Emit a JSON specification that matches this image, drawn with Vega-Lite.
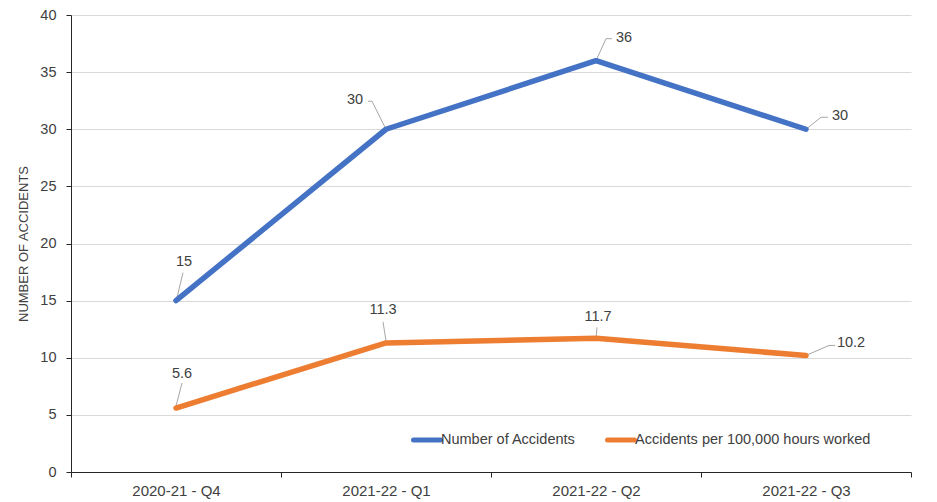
{
  "$schema": "https://vega.github.io/schema/vega-lite/v6.json",
  "width": 840,
  "height": 457,
  "autosize": {"type": "none"},
  "padding": {"left": 71, "top": 15, "right": 26, "bottom": 30},
  "background": "white",
  "config": {
    "font": "Liberation Sans",
    "view": {"stroke": null},
    "axis": {
      "domainColor": "#262626",
      "tickColor": "#262626",
      "tickSize": 5,
      "labelColor": "#404040",
      "labelFontSize": 14.5,
      "titleColor": "#404040",
      "titleFontWeight": "normal"
    },
    "text": {"font": "Liberation Sans", "fontSize": 14.5, "color": "#404040", "align": "center", "baseline": "middle"},
    "rule": {"color": "#a6a6a6", "strokeWidth": 1}
  },
  "data": {
    "values": [
      {"q": "2020-21 - Q4", "series": "Number of Accidents", "value": 15},
      {"q": "2021-22 - Q1", "series": "Number of Accidents", "value": 30},
      {"q": "2021-22 - Q2", "series": "Number of Accidents", "value": 36},
      {"q": "2021-22 - Q3", "series": "Number of Accidents", "value": 30},
      {"q": "2020-21 - Q4", "series": "Accidents per 100,000 hours worked", "value": 5.6},
      {"q": "2021-22 - Q1", "series": "Accidents per 100,000 hours worked", "value": 11.3},
      {"q": "2021-22 - Q2", "series": "Accidents per 100,000 hours worked", "value": 11.7},
      {"q": "2021-22 - Q3", "series": "Accidents per 100,000 hours worked", "value": 10.2}
    ]
  },
  "encoding": {
    "x": {
      "field": "q",
      "type": "ordinal",
      "sort": null,
      "scale": {"type": "band", "paddingInner": 0, "paddingOuter": 0},
      "axis": {"title": null, "labelAngle": 0, "tickBand": "extent", "labelPadding": 6, "labelFontSize": 15, "grid": false}
    },
    "y": {
      "field": "value",
      "type": "quantitative",
      "scale": {"domain": [0, 40], "nice": false},
      "axis": {
        "title": "NUMBER OF ACCIDENTS",
        "titleFontSize": 13,
        "titlePadding": 9,
        "values": [0, 5, 10, 15, 20, 25, 30, 35, 40],
        "labelPadding": 10,
        "grid": true,
        "gridColor": "#d9d9d9"
      }
    }
  },
  "layer": [
    {
      "transform": [{"filter": "datum.series === 'Number of Accidents' && datum.q === '2020-21 - Q4'"}],
      "mark": {"type": "rule", "xOffset": 1, "yOffset": -3, "x2Offset": 7, "y2Offset": -28},
      "encoding": {"x2": {"field": "q"}, "y2": {"field": "value"}}
    },
    {
      "transform": [{"filter": "datum.series === 'Number of Accidents' && datum.q === '2021-22 - Q1'"}],
      "mark": {"type": "rule", "xOffset": 0, "yOffset": 0, "x2Offset": -14, "y2Offset": -28},
      "encoding": {"x2": {"field": "q"}, "y2": {"field": "value"}}
    },
    {
      "transform": [{"filter": "datum.series === 'Number of Accidents' && datum.q === '2021-22 - Q1'"}],
      "mark": {"type": "rule", "xOffset": -14, "yOffset": -28, "x2Offset": -18, "y2Offset": -28},
      "encoding": {"x2": {"field": "q"}, "y2": {"field": "value"}}
    },
    {
      "transform": [{"filter": "datum.series === 'Number of Accidents' && datum.q === '2021-22 - Q2'"}],
      "mark": {"type": "rule", "xOffset": 0, "yOffset": 0, "x2Offset": 10, "y2Offset": -22},
      "encoding": {"x2": {"field": "q"}, "y2": {"field": "value"}}
    },
    {
      "transform": [{"filter": "datum.series === 'Number of Accidents' && datum.q === '2021-22 - Q2'"}],
      "mark": {"type": "rule", "xOffset": 10, "yOffset": -22, "x2Offset": 16, "y2Offset": -22},
      "encoding": {"x2": {"field": "q"}, "y2": {"field": "value"}}
    },
    {
      "transform": [{"filter": "datum.series === 'Number of Accidents' && datum.q === '2021-22 - Q3'"}],
      "mark": {"type": "rule", "xOffset": 0, "yOffset": 0, "x2Offset": 15, "y2Offset": -12},
      "encoding": {"x2": {"field": "q"}, "y2": {"field": "value"}}
    },
    {
      "transform": [{"filter": "datum.series === 'Number of Accidents' && datum.q === '2021-22 - Q3'"}],
      "mark": {"type": "rule", "xOffset": 15, "yOffset": -12, "x2Offset": 22, "y2Offset": -12},
      "encoding": {"x2": {"field": "q"}, "y2": {"field": "value"}}
    },
    {
      "transform": [{"filter": "datum.series !== 'Number of Accidents' && datum.q === '2020-21 - Q4'"}],
      "mark": {"type": "rule", "xOffset": 0, "yOffset": -2, "x2Offset": 6, "y2Offset": -25},
      "encoding": {"x2": {"field": "q"}, "y2": {"field": "value"}}
    },
    {
      "transform": [{"filter": "datum.series !== 'Number of Accidents' && datum.q === '2021-22 - Q1'"}],
      "mark": {"type": "rule", "xOffset": 0, "yOffset": -2, "x2Offset": -3, "y2Offset": -21},
      "encoding": {"x2": {"field": "q"}, "y2": {"field": "value"}}
    },
    {
      "transform": [{"filter": "datum.series !== 'Number of Accidents' && datum.q === '2021-22 - Q2'"}],
      "mark": {"type": "rule", "xOffset": 0, "yOffset": 0, "x2Offset": 1, "y2Offset": -11},
      "encoding": {"x2": {"field": "q"}, "y2": {"field": "value"}}
    },
    {
      "transform": [{"filter": "datum.series !== 'Number of Accidents' && datum.q === '2021-22 - Q3'"}],
      "mark": {"type": "rule", "xOffset": 0, "yOffset": 0, "x2Offset": 23, "y2Offset": -10},
      "encoding": {"x2": {"field": "q"}, "y2": {"field": "value"}}
    },
    {
      "transform": [{"filter": "datum.series !== 'Number of Accidents' && datum.q === '2021-22 - Q3'"}],
      "mark": {"type": "rule", "xOffset": 23, "yOffset": -10, "x2Offset": 29, "y2Offset": -10},
      "encoding": {"x2": {"field": "q"}, "y2": {"field": "value"}}
    },
    {
      "mark": {"type": "line", "strokeWidth": 5.5, "strokeCap": "round", "strokeJoin": "round"},
      "encoding": {
        "color": {
          "field": "series",
          "type": "nominal",
          "scale": {
            "domain": ["Number of Accidents", "Accidents per 100,000 hours worked"],
            "range": ["#4472C4", "#ED7D31"]
          },
          "legend": {
            "title": null,
            "orient": "none",
            "legendX": 340,
            "legendY": 409,
            "direction": "horizontal",
            "symbolType": "stroke",
            "symbolSize": 729,
            "symbolStrokeWidth": 5,
            "labelFontSize": 14.5,
            "labelColor": "#404040",
            "labelLimit": 0,
            "labelOffset": -2,
            "columnPadding": 21,
            "padding": 0,
            "encode": {"symbols": {"update": {"strokeCap": {"value": "round"}}}}
          }
        }
      }
    },
    {
      "transform": [{"filter": "datum.series === 'Number of Accidents' && datum.q === '2020-21 - Q4'"}],
      "mark": {"type": "text", "dx": 8, "dy": -39},
      "encoding": {"text": {"field": "value", "type": "quantitative", "format": ".1~f"}}
    },
    {
      "transform": [{"filter": "datum.series === 'Number of Accidents' && datum.q === '2021-22 - Q1'"}],
      "mark": {"type": "text", "dx": -31, "dy": -29},
      "encoding": {"text": {"field": "value", "type": "quantitative", "format": ".1~f"}}
    },
    {
      "transform": [{"filter": "datum.series === 'Number of Accidents' && datum.q === '2021-22 - Q2'"}],
      "mark": {"type": "text", "dx": 28, "dy": -23},
      "encoding": {"text": {"field": "value", "type": "quantitative", "format": ".1~f"}}
    },
    {
      "transform": [{"filter": "datum.series === 'Number of Accidents' && datum.q === '2021-22 - Q3'"}],
      "mark": {"type": "text", "dx": 34, "dy": -13},
      "encoding": {"text": {"field": "value", "type": "quantitative", "format": ".1~f"}}
    },
    {
      "transform": [{"filter": "datum.series !== 'Number of Accidents' && datum.q === '2020-21 - Q4'"}],
      "mark": {"type": "text", "dx": 6, "dy": -34},
      "encoding": {"text": {"field": "value", "type": "quantitative", "format": ".1~f"}}
    },
    {
      "transform": [{"filter": "datum.series !== 'Number of Accidents' && datum.q === '2021-22 - Q1'"}],
      "mark": {"type": "text", "dx": -3, "dy": -33},
      "encoding": {"text": {"field": "value", "type": "quantitative", "format": ".1~f"}}
    },
    {
      "transform": [{"filter": "datum.series !== 'Number of Accidents' && datum.q === '2021-22 - Q2'"}],
      "mark": {"type": "text", "dx": 2, "dy": -21},
      "encoding": {"text": {"field": "value", "type": "quantitative", "format": ".1~f"}}
    },
    {
      "transform": [{"filter": "datum.series !== 'Number of Accidents' && datum.q === '2021-22 - Q3'"}],
      "mark": {"type": "text", "dx": 45, "dy": -12},
      "encoding": {"text": {"field": "value", "type": "quantitative", "format": ".1~f"}}
    }
  ]
}
